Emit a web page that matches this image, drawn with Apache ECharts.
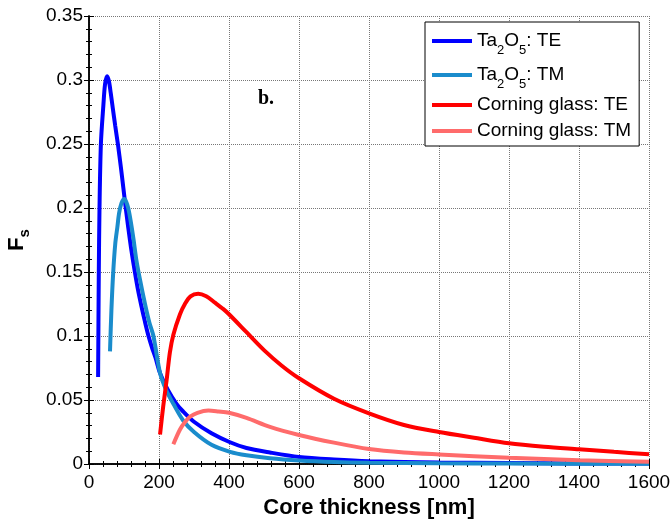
<!DOCTYPE html>
<html>
<head>
<meta charset="utf-8">
<script src="https://cdn.jsdelivr.net/npm/echarts@6/dist/echarts.min.js"></script>
<style>
  html, body { margin: 0; padding: 0; background: #fff; }
  #chart { width: 672px; height: 520px; }
</style>
</head>
<body>
<div id="chart"></div>
<script>
// core thickness [nm] and F_s
const taTeX = [26, 27, 28, 30, 34, 41, 46, 52, 57, 62, 68, 75, 83, 91, 98, 105, 112, 120, 131, 140, 150, 160, 170, 180, 190, 203, 225, 250, 269, 300, 350, 403, 450, 517, 600, 700, 800, 1000, 1200, 1400, 1600];
const taTeY = [0.068, 0.11, 0.15, 0.2, 0.25, 0.28, 0.297, 0.303, 0.299, 0.29, 0.278, 0.264, 0.249, 0.232, 0.216, 0.2, 0.185, 0.169, 0.15, 0.136, 0.123, 0.111, 0.1, 0.091, 0.083, 0.071, 0.058, 0.047, 0.041, 0.033, 0.024, 0.017, 0.0125, 0.009, 0.0055, 0.0035, 0.0022, 0.0012, 0.0007, 0.0004, 0.0003];

const taTmX = [60, 64, 69, 75, 81, 86, 93, 101, 106, 112, 119, 127, 135, 145, 160, 172, 184, 203, 220, 241, 269, 300, 350, 403, 450, 517, 600, 700, 800, 1000, 1200, 1600];
const taTmY = [0.088, 0.12, 0.149, 0.172, 0.185, 0.196, 0.204, 0.207, 0.205, 0.2, 0.19, 0.176, 0.16, 0.145, 0.125, 0.111, 0.1, 0.071, 0.058, 0.047, 0.034, 0.025, 0.015, 0.0095, 0.0068, 0.0045, 0.0028, 0.0016, 0.001, 0.0005, 0.0003, 0.0001];

const cgTeX = [203, 212, 222, 231, 241, 260, 274, 290, 312, 335, 360, 384, 400, 450, 500, 550, 600, 700, 800, 900, 1000, 1100, 1200, 1300, 1400, 1500, 1600];
const cgTeY = [0.023, 0.045, 0.066, 0.087, 0.101, 0.117, 0.125, 0.131, 0.133, 0.131, 0.126, 0.121, 0.117, 0.103, 0.089, 0.077, 0.067, 0.051, 0.0396, 0.0305, 0.025, 0.0205, 0.0162, 0.0135, 0.0115, 0.0095, 0.0076];

const cgTmX = [241, 260, 275, 289, 310, 341, 370, 400, 450, 517, 600, 700, 800, 900, 1000, 1200, 1400, 1600];
const cgTmY = [0.0155, 0.027, 0.033, 0.037, 0.04, 0.0417, 0.041, 0.04, 0.036, 0.029, 0.0227, 0.0167, 0.0117, 0.009, 0.0075, 0.0049, 0.003, 0.0018];

const seriesNames = ['Ta2O5: TE', 'Ta2O5: TM', 'Corning glass: TE', 'Corning glass: TM'];
const seriesColors = ['#0000ff', '#1a8ccc', '#ff0000', '#ff6b6b'];

const zip = (xs, ys) => xs.map((x, i) => [x, ys[i]]);
const allData = [zip(taTeX, taTeY), zip(taTmX, taTmY), zip(cgTeX, cgTeY), zip(cgTmX, cgTmY)];

const chart = echarts.init(document.getElementById('chart'));

const font = 'Liberation Sans, Arial, sans-serif';
const tickStyle = { show: true, inside: true, length: 5, lineStyle: { color: '#000', width: 1 } };
const smallTick = { show: true, inside: true, length: 3, lineStyle: { color: '#000', width: 1 } };
const lineStyle = { show: true, lineStyle: { color: '#000', width: 1.5 } };
const gridLine = { show: true, lineStyle: { color: '#777', type: 'dotted', width: 1 } };

// axes that only carry the small inner ticks (x every 40 nm, y every 0.01)
const minorX = pos => ({
  type: 'value', min: 0, max: 1600, interval: 40, position: pos,
  axisLine: { show: false }, axisTick: smallTick,
  axisLabel: { show: false }, splitLine: { show: false }
});
const minorY = pos => ({
  type: 'value', min: 0, max: 0.35, interval: 0.01, position: pos,
  axisLine: { show: false }, axisTick: smallTick,
  axisLabel: { show: false }, splitLine: { show: false }
});

const option = {
  animation: false,
  backgroundColor: '#fff',
  grid: { left: 89, right: 23, top: 16, bottom: 56, outerBoundsMode: 'none', containLabel: false },
  title: {
    text: 'b.',
    left: 253, top: 84,
    textStyle: { fontFamily: 'Liberation Serif, Times New Roman, serif', fontWeight: 'bold', fontSize: 20, color: '#000' }
  },
  legend: {
    orient: 'vertical',
    left: 425, top: 22,
    width: 216,
    backgroundColor: '#fff',
    borderColor: '#000',
    borderWidth: 1,
    borderRadius: 0,
    padding: [3, 8, 3, 7],
    itemGap: 2,
    itemWidth: 40,
    itemHeight: 4,
    icon: 'rect',
    data: seriesNames,
    formatter: name => {
      if (name.startsWith('Ta2O5')) {
        return '{n|Ta}{s|2}{n|O}{s|5}{n|' + name.slice(5) + '}';
      }
      return '{m|' + name + '}';
    },
    textStyle: {
      fontFamily: font, fontSize: 19, color: '#000', lineHeight: 32,
      rich: {
        n: { fontFamily: font, fontSize: 19, color: '#000', lineHeight: 32 },
        m: { fontFamily: font, fontSize: 19, color: '#000', lineHeight: 24 },
        s: { fontFamily: font, fontSize: 13, color: '#000', lineHeight: 15, verticalAlign: 'bottom' }
      }
    }
  },
  xAxis: [
    {
      type: 'value', min: 0, max: 1600, interval: 200,
      name: 'Core thickness [nm]', nameLocation: 'middle', nameGap: 33,
      nameTextStyle: { fontFamily: font, fontWeight: 'bold', fontSize: 22, color: '#000' },
      axisLine: lineStyle, axisTick: tickStyle,
      axisLabel: { fontFamily: font, fontSize: 19, color: '#000', margin: 9, formatter: v => String(v) },
      splitLine: gridLine
    },
    {
      type: 'value', min: 0, max: 1600, interval: 200, position: 'top',
      axisLine: lineStyle, axisTick: tickStyle,
      axisLabel: { show: false }, splitLine: { show: false }
    },
    minorX('bottom'),
    minorX('top')
  ],
  yAxis: [
    {
      type: 'value', min: 0, max: 0.35, interval: 0.05,
      name: '{f|F}{s|s}', nameLocation: 'middle', nameGap: 57,
      nameTextStyle: {
        rich: {
          f: { fontFamily: font, fontWeight: 'bold', fontSize: 22, color: '#000', lineHeight: 30 },
          s: { fontFamily: font, fontWeight: 'bold', fontSize: 15, color: '#000', lineHeight: 15, verticalAlign: 'bottom' }
        }
      },
      axisLine: lineStyle, axisTick: tickStyle,
      axisLabel: { fontFamily: font, fontSize: 19, color: '#000', margin: 6 },
      splitLine: gridLine
    },
    {
      type: 'value', min: 0, max: 0.35, interval: 0.05, position: 'right',
      axisLine: lineStyle, axisTick: tickStyle,
      axisLabel: { show: false }, splitLine: { show: false }
    },
    minorY('left'),
    minorY('right')
  ],
  series: seriesNames.map((name, i) => ({
    name: name,
    type: 'line',
    data: allData[i],
    smooth: 0.3,
    symbol: 'none',
    clip: true,
    color: seriesColors[i],
    lineStyle: { color: seriesColors[i], width: 4 }
  }))
};

chart.setOption(option);
</script>
</body>
</html>
